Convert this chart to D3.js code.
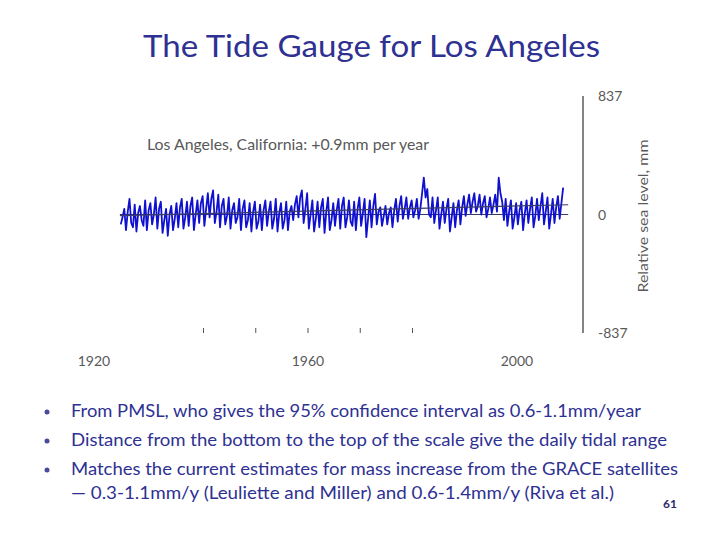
<!DOCTYPE html>
<html><head><meta charset="utf-8">
<script src="https://cdn.jsdelivr.net/npm/d3@7"></script>
<style>body{margin:0;background:#fff}svg{display:block}</style>
</head><body>
<svg id="c" width="720" height="540"></svg>
<script>
// Sea level (mm), three readings per year (Feb, Jun, Oct), starting 1924
const startYear = 1924;
const seaLevel = [
 -70,-20,40,   -110,20,110,  -60,-90,70,   -120,10,60,   -40,-80,100,
 -110,30,80,   -70,0,120,    -100,40,90,   -130,-40,40,  -150,0,60,
 -110,-30,80,  -90,50,110,   -100,-20,90,  -80,60,120,   -110,0,100,
 -60,80,130,   -80,40,150,   -20,110,170,  -60,20,140,   -90,60,110,
 -70,-10,120,  -100,30,80,   -60,-20,110,  -110,40,100,  -90,-40,80,
 -120,20,90,   -100,-50,70,  -110,30,100,  -80,20,90,    -100,-30,110,
 -120,10,80,   -100,-40,90,  -110,20,60,   -40,70,130,   -20,120,170,
 -60,40,150,   -100,0,100,   -120,-30,90,  -90,50,110,   -130,20,120,
 -110,-40,80,  -80,30,110,   -100,60,120,  -90,-20,100,  -50,-80,90,
 -110,40,120,  -80,10,110,   -160,-30,100, -90,60,145,   -70,20,50,
 -80,-10,60,   -70,10,50,    -90,30,110,   -50,60,130,   -30,40,120,
 -30,50,100,   -20,30,110,   -30,40,150,   260,120,180,  0,-20,120,
 -60,30,120,   -100,0,90,    -60,40,110,   -120,-20,80,  -90,30,100,
 -70,50,130,   -10,70,140,   10,90,150,    20,60,140,    0,80,130,
 -20,40,120,   10,70,140,    20,260,150,   90,-40,110,   -80,20,100,
 -100,-20,80,  -70,30,90,    -110,10,100,  -60,40,120,   -90,-10,110,
 -40,60,150,   -70,20,120,   -100,0,110,   -60,50,130,   -30,80,190
];
const trendYears = [1924, 2009.8];
const trendValues = [-8, 69];
const xTickYears = [1940, 1950, 1960, 1970, 1980];
const xLabelYears = [1920, 1960, 2000];
const yTickValues = [837, 0, -837];
const bullets = [
 "From PMSL, who gives the 95% confidence interval as 0.6-1.1mm/year",
 "Distance from the bottom to the top of the scale give the daily tidal range",
 "Matches the current estimates for mass increase from the GRACE satellites"
];
const bulletCont = "— 0.3-1.1mm/y (Leuliette and Miller) and 0.6-1.4mm/y (Riva et al.)";

const svg = d3.select("#c");
const font = "Lato, 'Open Sans', sans-serif";
const navy = "#2e3192";
const grey = "#595959";

const x = d3.scaleLinear().domain([1920, 2000]).range([99, 517]);
const y = d3.scaleLinear().domain([-837, 837]).range([333, 96]);

svg.append("text").attr("x", 143).attr("y", 57).attr("font-family", font).attr("font-size", 31)
  .attr("fill", navy).attr("textLength", 457).attr("lengthAdjust", "spacingAndGlyphs")
  .text("The Tide Gauge for Los Angeles");

svg.append("text").attr("x", 147).attr("y", 150).attr("font-family", font).attr("font-size", 15)
  .attr("fill", grey).attr("textLength", 282).attr("lengthAdjust", "spacingAndGlyphs")
  .text("Los Angeles, California: +0.9mm per year");

svg.append("line").attr("x1", x(startYear)).attr("x2", x(2009.8)).attr("y1", y(0)).attr("y2", y(0))
  .attr("stroke", "#3b3b6b").attr("stroke-width", 1.2);

const pts = seaLevel.map((v, i) => [startYear + (2 * (i % 3) + 1) / 6 + Math.floor(i / 3), v]);
const line = d3.line().x(d => x(d[0])).y(d => y(d[1]));
svg.append("path").datum(pts).attr("d", line).attr("fill", "none")
  .attr("stroke", "#1010d0").attr("stroke-width", 1.8).attr("stroke-linejoin", "round");

svg.append("path").datum(trendYears.map((t, i) => [t, trendValues[i]])).attr("d", line)
  .attr("fill", "none").attr("stroke", "#3b3b6b").attr("stroke-width", 1.2);

svg.append("line").attr("x1", 583).attr("x2", 583).attr("y1", y(837)).attr("y2", y(-837))
  .attr("stroke", "#333").attr("stroke-width", 1.2);
svg.selectAll(".yl").data(yTickValues).enter().append("text")
  .attr("x", 598).attr("y", d => y(d) + 5).attr("font-family", font).attr("font-size", 14)
  .attr("fill", grey).text(d => d);
svg.append("text").attr("transform", "translate(648,216) rotate(-90)").attr("text-anchor", "middle")
  .attr("font-family", font).attr("font-size", 14).attr("fill", grey)
  .attr("textLength", 153).attr("lengthAdjust", "spacingAndGlyphs")
  .text("Relative sea level, mm");

svg.selectAll(".xt").data(xTickYears).enter().append("line")
  .attr("x1", d => x(d)).attr("x2", d => x(d)).attr("y1", 328).attr("y2", 333)
  .attr("stroke", "#555").attr("stroke-width", 1);
svg.selectAll(".xl").data(xLabelYears).enter().append("text")
  .attr("x", d => x(d) - (d === 1920 ? 5 : 0)).attr("y", 366).attr("text-anchor", "middle")
  .attr("font-family", font).attr("font-size", 14).attr("fill", grey).text(d => d);

const bx = 71, bys = [417, 446, 475], bEnds = [641, 667, 678];
bullets.forEach((t, i) => {
  svg.append("circle").attr("cx", 47).attr("cy", bys[i] - 5).attr("r", 2.5).attr("fill", "#4a4a9a");
  svg.append("text").attr("x", bx).attr("y", bys[i]).attr("font-family", font).attr("font-size", 17)
    .attr("fill", navy).attr("textLength", bEnds[i] - bx).attr("lengthAdjust", "spacingAndGlyphs").text(t);
});
svg.append("text").attr("x", bx).attr("y", 499).attr("font-family", font).attr("font-size", 17)
  .attr("fill", navy).attr("textLength", 614 - bx).attr("lengthAdjust", "spacingAndGlyphs").text(bulletCont);
svg.append("text").attr("x", 663).attr("y", 508).attr("font-family", font).attr("font-size", 12)
  .attr("font-weight", "bold").attr("fill", "#2b2b6b").text("61");
</script>
</body></html>
